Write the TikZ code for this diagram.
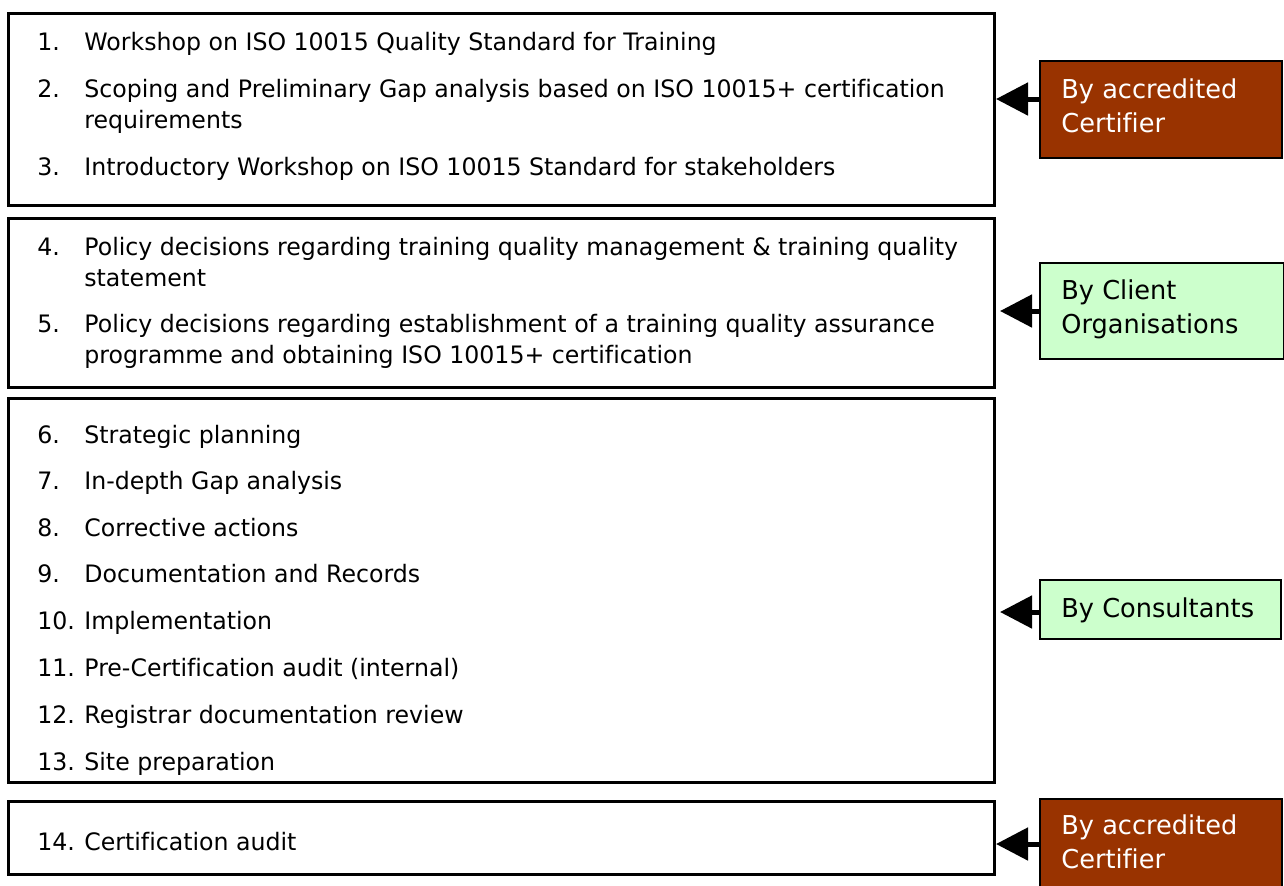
\documentclass[tikz,border=0pt]{standalone}
\usepackage{fontspec}
\setmainfont{DejaVu Sans}[FakeStretch=0.985, Ligatures=NoCommon]
\usetikzlibrary{arrows.meta}
\definecolor{brownbox}{HTML}{993300}
\definecolor{greenbox}{HTML}{CCFFCC}
\tikzset{
  stagebox/.style={draw=black, line width=1.5pt, rectangle, inner sep=0pt, anchor=north west},
  whobox/.style={draw=black, line width=1pt, rectangle, inner sep=0pt, anchor=north west},
  brown/.style={whobox, fill=brownbox},
  green/.style={whobox, fill=greenbox},
  txt/.style={inner sep=0pt, anchor=base west, font=\fontsize{12pt}{15pt}\selectfont},
  ltxt/.style={inner sep=0pt, anchor=base west, font=\fontsize{13pt}{16pt}\selectfont},
  wtxt/.style={ltxt, text=white},
  arr/.style={line width=2.5pt, -{Triangle[length=16pt,width=16pt]}}
}
\begin{document}
\begin{tikzpicture}[x=0.5pt,y=-0.5pt]
\useasboundingbox (0,0) rectangle (1284,885);
\clip (0,0) rectangle (1284,885);
% stage boxes
\node[stagebox, minimum width=986*0.5pt, minimum height=192*0.5pt] (b1) at (7,12) {};
\node[stagebox, minimum width=986*0.5pt, minimum height=169*0.5pt] (b2) at (7,217) {};
\node[stagebox, minimum width=986*0.5pt, minimum height=384*0.5pt] (b3) at (7,397) {};
\node[stagebox, minimum width=986*0.5pt, minimum height=73*0.5pt] (b4) at (7,800) {};
% box 1 text
\node[txt] (n1) at (37,50) {1.};
\node[txt] (t1) at (84,50) {Workshop on ISO 10015 Quality Standard for Training};
\node[txt] (n2) at (37,97) {2.};
\node[txt] (t2) at (84,97) {Scoping and Preliminary Gap analysis based on ISO 10015+ certification};
\node[txt] (t2b) at (84,128) {requirements};
\node[txt] (n3) at (37,175) {3.};
\node[txt] (t3) at (84,175) {Introductory Workshop on ISO 10015 Standard for stakeholders};
% box 2 text
\node[txt] (n4) at (37,255) {4.};
\node[txt] (t4) at (84,255) {Policy decisions regarding training quality management \& training quality};
\node[txt] (t4b) at (84,286) {statement};
\node[txt] (n5) at (37,332) {5.};
\node[txt] (t5) at (84,332) {Policy decisions regarding establishment of a training quality assurance};
\node[txt] (t5b) at (84,363) {programme and obtaining ISO 10015+ certification};
% box 3 text
\node[txt] (n6) at (37,443) {6.};
\node[txt] (t6) at (84,443) {Strategic planning};
\node[txt] (n7) at (37,489) {7.};
\node[txt] (t7) at (84,489) {In-depth Gap analysis};
\node[txt] (n8) at (37,536) {8.};
\node[txt] (t8) at (84,536) {Corrective actions};
\node[txt] (n9) at (37,582) {9.};
\node[txt] (t9) at (84,582) {Documentation and Records};
\node[txt] (n10) at (37,629) {10.};
\node[txt] (t10) at (84,629) {Implementation};
\node[txt] (n11) at (37,676) {11.};
\node[txt] (t11) at (84,676) {Pre-Certification audit (internal)};
\node[txt] (n12) at (37,723) {12.};
\node[txt] (t12) at (84,723) {Registrar documentation review};
\node[txt] (n13) at (37,770) {13.};
\node[txt] (t13) at (84,770) {Site preparation};
% box 4 text
\node[txt] (n14) at (37,850) {14.};
\node[txt] (t14) at (84,850) {Certification audit};
% who boxes
\node[brown, minimum width=242*0.5pt, minimum height=97*0.5pt] (l1) at (1039,60) {};
\node[green, minimum width=244*0.5pt, minimum height=96*0.5pt] (l2) at (1039,262) {};
\node[green, minimum width=241*0.5pt, minimum height=59*0.5pt] (l3) at (1039,579) {};
\node[brown, minimum width=242*0.5pt, minimum height=110*0.5pt] (l4) at (1039,798) {};
\node[wtxt] (w1a) at (1061,98) {By accredited};
\node[wtxt] (w1b) at (1061,132) {Certifier};
\node[ltxt] (w2a) at (1061,299) {By Client};
\node[ltxt] (w2b) at (1061,333) {Organisations};
\node[ltxt] (w3) at (1061,617) {By Consultants};
\node[wtxt] (w4a) at (1061,834) {By accredited};
\node[wtxt] (w4b) at (1061,868) {Certifier};
% arrows
\draw[arr] (l1.west |- 0,99) -- (b1.east |- 0,99);
\draw[arr, shorten >=2pt] (l2.west |- 0,311) -- (b2.east |- 0,311);
\draw[arr, shorten >=2pt] (l3.west |- 0,612) -- (b3.east |- 0,612);
\draw[arr] (l4.west |- 0,844) -- (b4.east |- 0,844);
\end{tikzpicture}
\end{document}
